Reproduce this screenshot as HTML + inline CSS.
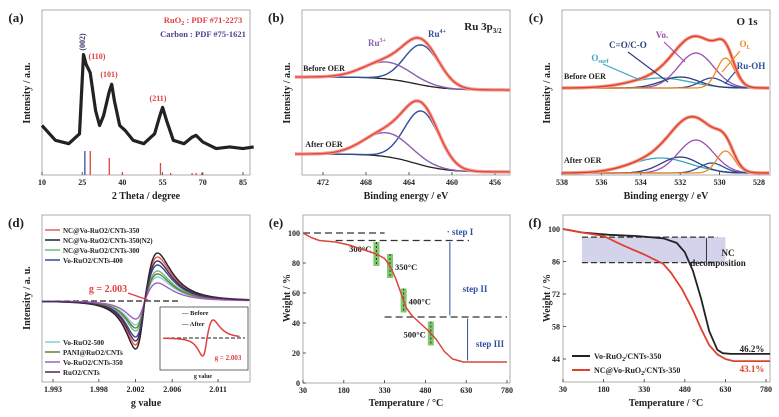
<!DOCTYPE html>
<html><head><meta charset="utf-8"><style>
body{margin:0;background:#fff;width:779px;height:417px;overflow:hidden}
svg{display:block;font-family:"Liberation Serif",serif}
</style></head><body>
<svg id="fig" width="779" height="417" viewBox="0 0 779 417" xmlns="http://www.w3.org/2000/svg"></svg>
<script>
// ---------- data ----------
const xrdTheta=[10,15,20,24,25.5,26.5,28,30,31.5,33,35,36,37,39,41,44,48,52,54,55,56.5,59,63,66,67.5,70,75,80,85,89];
const xrdInt=[30,21,19,25,73,67,62,39,30,36,50,55,45,30,27,21,19,25,36,41,33,21,19,23,24,20,16,17,16,17];
const ruo2Ref=[28,35.1,40,54.2,58,66,67.5,69.6];
const ruo2RefH=[24,17,3,12,2,2,2,2];
const carbonRef=[26];const carbonRefH=[24];
const xrdTicks=[10,25,40,55,70,85];
// (b) Ru 3p: [center, height, sigma]
const ruCenters=[462.8,466.0];
const ruBeforeH=[40,17];const ruAfterH=[54,24];
const ruSigma=[1.6,2.2];
const bTicks=[472,468,464,460,456];
// (c) O 1s components: Osurf, C=O/C-O, Vo, Ru-OH, OL
const oCenters=[533.0,532.0,531.2,530.4,529.7];
const oBeforeH=[10,11,35,10,30];const oAfterH=[15,16,33,10,22];
const oSigma=[1.5,0.95,0.9,0.6,0.45];
const oColors=['#3aa6c0','#2c3e7a','#9b4fb0','#2d4f9a','#f08a24'];
const cTicks=[538,536,534,532,530,528];
// (d) EPR amplitudes
const eprNames=['NC@Vo-RuO2/CNTs-350','NC@Vo-RuO2/CNTs-350(N2)','NC@Vo-RuO2/CNTs-300','Vo-RuO2/CNTs-400','Vo-RuO2-500','PANI@RuO2/CNTs','Vo-RuO2/CNTs-350','RuO2/CNTs'];
const eprAmp=[44,48,30,36,24,27,18,40];
const eprColors=['#e85a5a','#222','#6bbf7a','#34489a','#7fd0e0','#6f7a3a','#a160c0','#4a2a5a'];
const dTicks=[1.993,1.998,2.002,2.006,2.011];
// (e) TGA
const eTemp=[30,60,90,150,200,250,300,330,350,370,390,410,430,460,490,520,550,580,620,650,780];
const eWt=[100,97,95,94,92,89,86,83,78,70,60,50,45,40,35,29,21,16,14,14,14];
const eMarks=[300,350,400,500];
const eTicksX=[30,180,330,480,630,780];const eTicksY=[0,20,40,60,80,100];
// (f) TGA compare
const fTempB=[30,100,200,300,400,450,480,510,540,570,600,620,650,795];
const fWtB=[100,98.5,97.5,97,96,94,90,82,70,56,48,46.5,46.2,46.2];
const fTempR=[30,100,180,250,330,400,430,470,510,540,570,600,630,660,795];
const fWtR=[100,98.5,97,93,89,85,81,74,65,57,50,46,44,43.1,43.1];
const fTicksX=[30,180,330,480,630,780];const fTicksY=[44,58,72,86,100];

// ---------- helpers ----------
const svg=document.getElementById('fig');const NS='http://www.w3.org/2000/svg';
function mk(tag,attrs,name,parent){const el=document.createElementNS(NS,tag);for(const k in attrs)el.setAttribute(k,attrs[k]);


(parent||svg).appendChild(el);return el;}
function txt(x,y,s,name,o){o=o||{};const t=mk('text',Object.assign({x:x,y:y,'font-size':o.fs||9,'font-weight':o.fw||'bold',fill:o.fill||'#222','text-anchor':o.anchor||'middle'},o.extra||{}),name);t.innerHTML=s;return t;}
function line(x1,y1,x2,y2,name,c,w,dash){return mk('line',{x1:x1,y1:y1,x2:x2,y2:y2,stroke:c||'#333','stroke-width':w||1,'stroke-dasharray':dash||'none'},name);}
function poly(pts,name,c,w,extra){return mk('polyline',Object.assign({points:pts.map(p=>p[0].toFixed(1)+','+p[1].toFixed(1)).join(' '),fill:'none',stroke:c,'stroke-width':w||1.2,'stroke-linejoin':'round'},extra||{}),name);}
function frame(x0,y0,x1,y1,name){mk('rect',{x:x0,y:y0,width:x1-x0,height:y1-y0,fill:'none',stroke:'#999','stroke-width':0.8},name);}
function gauss(x,c,h,s){return h*Math.exp(-((x-c)*(x-c))/(2*s*s));}
function xticks(ticks,sx,yb,name){ticks.forEach(t=>{line(sx(t),yb,sx(t),yb-3,name+'-tick','#333',0.8);txt(sx(t),yb+10,String(t),name+'-label',{fs:8});});}
function ylabel(x,y,s,name){txt(x,y,s,name,{fs:10,extra:{transform:'rotate(-90 '+x+' '+y+')'}});}

// ---------- (a) XRD ----------
(function(){const x0=42,x1=250,y0=10,y1=175;const sx=t=>42+(t-10)*(201/75);const sy=v=>175-v*1.65;
frame(x0,y0,x1,y1,'panel-a-frame');txt(16,22,'(a)','panel-a-label',{fs:13});
xticks(xrdTicks,sx,y1,'xrd-x');txt(146,199,'2 Theta / degree','xrd-x-title',{fs:10});ylabel(30,93,'Intensity / a.u.','xrd-y-title');
poly(xrdTheta.map((t,i)=>[sx(t),sy(xrdInt[i])]),'xrd-pattern','#222',3.2);
ruo2Ref.forEach((t,i)=>line(sx(t),y1,sx(t),y1-ruo2RefH[i],'ruo2-reference-line','#e04040',1.3));
carbonRef.forEach((t,i)=>line(sx(t),y1,sx(t),y1-carbonRefH[i],'carbon-reference-line','#3050a0',1.3));
txt(203,23,'RuO<tspan font-size="6" dy="2">2</tspan><tspan dy="-2"> : PDF #71-2273</tspan>','legend-ruo2',{fs:8.5,fill:'#e04040'});
txt(203,37,'Carbon : PDF #75-1621','legend-carbon',{fs:8.5,fill:'#504090'});
txt(85,42,'(002)','peak-002',{fs:8,fill:'#3a3a6a',extra:{transform:'rotate(-90 85 42)'}});
txt(97,59,'(110)','peak-110',{fs:8,fill:'#e04040'});txt(109,77,'(101)','peak-101',{fs:8,fill:'#e04040'});txt(158,101,'(211)','peak-211',{fs:8,fill:'#e04040'});
})();

// ---------- (b) Ru 3p ----------
(function(){const x0=302,x1=510,y0=10,y1=175;const sx=e=>323+(472-e)*10.75;
frame(x0,y0,x1,y1,'panel-b-frame');txt(276,22,'(b)','panel-b-label',{fs:13});
xticks(bTicks,sx,y1,'xps-ru-x');txt(406,199,'Binding energy / eV','xps-ru-x-title',{fs:10});ylabel(290,93,'Intensity / a.u.','xps-ru-y-title');
txt(483,30,'Ru 3p<tspan font-size="7" dy="3">3/2</tspan>','ru-title',{fs:11});
function draw(hs,bL,bR,tag){const es=[];for(let e=474.6;e>=454.5;e-=0.2)es.push(e);
const bg=e=>bL+(bR-bL)/(1+Math.exp(-(463.5-e)/1.5));
poly(es.map(e=>[sx(e),bg(e)]),tag+'-background','#222',1.3);
const comp=['#2e4f9a','#8a5fb0'];
ruCenters.forEach((c,i)=>poly(es.map(e=>[sx(e),bg(e)-gauss(e,c,hs[i],ruSigma[i])]),tag+'-component-'+i,comp[i],1.4));
poly(es.map(e=>[sx(e),bg(e)-ruCenters.reduce((s,c,i)=>s+gauss(e,c,hs[i],ruSigma[i]),0)]),tag+'-envelope','#f0a0a0',3.5);
poly(es.map(e=>[sx(e),bg(e)-ruCenters.reduce((s,c,i)=>s+gauss(e,c,hs[i],ruSigma[i]),0)]),tag+'-fit','#e8442a',1.3);}
draw(ruBeforeH,77,90,'ru-before');draw(ruAfterH,154,172,'ru-after');
txt(324,71,'Before OER','before-oer-label',{fs:8});txt(324,147,'After OER','after-oer-label',{fs:8});
txt(377,46,'Ru<tspan font-size="6" dy="-4">3+</tspan>','ru3-label',{fs:9,fill:'#8a5fb0'});
txt(437,37,'Ru<tspan font-size="6" dy="-4">4+</tspan>','ru4-label',{fs:9,fill:'#2e4f9a'});
})();

// ---------- (c) O 1s ----------
(function(){const x0=562,x1=770,y0=10,y1=175;const sx=e=>562+(538-e)*19.7;
frame(x0,y0,x1,y1,'panel-c-frame');txt(536,22,'(c)','panel-c-label',{fs:13});
xticks(cTicks,sx,y1,'xps-o-x');txt(666,199,'Binding energy / eV','xps-o-x-title',{fs:10});ylabel(550,93,'Intensity / a.u.','xps-o-y-title');
txt(747,25,'O 1s','o1s-title',{fs:11});
function draw(hs,b,tag){const es=[];for(let e=538;e>=527.4;e-=0.1)es.push(e);
oCenters.forEach((c,i)=>poly(es.map(e=>[sx(e),b-gauss(e,c,hs[i],oSigma[i])]),tag+'-component-'+i,oColors[i],1.3));
const env=es.map(e=>[sx(e),b-oCenters.reduce((s,c,i)=>s+gauss(e,c,hs[i],oSigma[i]),0)]);
poly(env,tag+'-envelope','#f3a090',3.5);poly(env,tag+'-fit','#e0402a',1.4);}
draw(oBeforeH,88,'o-before');draw(oAfterH,173,'o-after');
txt(564,79,'Before OER','o-before-label',{fs:8,anchor:'start'});txt(564,163,'After OER','o-after-label',{fs:8,anchor:'start'});
txt(628,48,'C=O/C-O','co-label',{fs:9,fill:'#2c3e7a'});txt(662,38,'Vo.','vo-label',{fs:9,fill:'#9b4fb0'});
txt(600,61,'O<tspan font-size="6" dy="2">surf</tspan>','osurf-label',{fs:9,fill:'#3aa6c0'});
txt(745,47,'O<tspan font-size="6" dy="2">L</tspan>','ol-label',{fs:9,fill:'#f08a24'});txt(751,69,'Ru-OH','ruoh-label',{fs:9,fill:'#2d4f9a'});
line(628,52,668,82,'co-arrow','#2c3e7a',1.2);line(664,42,685,62,'vo-arrow','#9b4fb0',1.2);line(603,64,640,80,'osurf-arrow','#3aa6c0',1.2);
line(740,51,722,72,'ol-arrow','#f08a24',1.2);line(735,72,725,84,'ruoh-arrow','#2d4f9a',1.2);
})();

// ---------- (d) EPR ----------
(function(){const x0=42,x1=250,y0=215,y1=382;const sx=g=>53+(g-1.993)*9170;const base=301;
frame(x0,y0,x1,y1,'panel-d-frame');txt(16,227,'(d)','panel-d-label',{fs:13});
xticks(dTicks,sx,y1,'epr-x');txt(146,406,'g value','epr-x-title',{fs:10});ylabel(30,298,'Intensity / a. u.','epr-y-title');
line(55,base,180,base,'epr-baseline','#222',1.3,'6,3');
const shape=g=>{const d=(g-2.003)/0.001;const k=d>0?1.4:1.0;const dd=d/k;return 1.778*dd/Math.pow(1+dd*dd/3,2);};
eprAmp.forEach((a,i)=>{const pts=[];for(let g=1.9918;g<=2.0145;g+=0.0001)pts.push([sx(g),base-a*shape(g)]);poly(pts,'epr-series-'+i,eprColors[i],1.4);});
const leg=[[0,230],[1,240],[2,250],[3,260],[4,342],[5,352],[6,362],[7,372]];
leg.forEach(([i,y])=>{line(45,y,60,y,'legend-swatch-'+i,eprColors[i],1.5);txt(63,y+3,eprNames[i],'legend-entry-'+i,{fs:7,anchor:'start'});});
txt(108,292,'g = 2.003','g-value-label',{fs:10,fill:'#e04040'});line(128,293,148,300,'g-arrow','#e04040',1.3);
mk('rect',{x:160,y:307,width:88,height:63,fill:'#fff',stroke:'#444','stroke-width':0.8},'inset-frame');
line(165,338,245,338,'inset-baseline','#222',1,'4,2');
const isx=g=>163+(g-1.993)*4400;const ipts=[];for(let g=1.993;g<=2.0105;g+=0.0001)ipts.push([isx(g),338-18*shape(g)]);poly(ipts,'inset-after-curve','#e04040',1.5);
txt(182,315,'— Before','inset-legend-before',{fs:6.5,anchor:'start'});txt(182,326,'— After','inset-legend-after',{fs:6.5,anchor:'start'});
txt(228,360,'g = 2.003','inset-g-label',{fs:7,fill:'#e04040'});txt(203,378,'g value','inset-x-title',{fs:6});
})();

// ---------- (e) TGA ----------
(function(){const x0=303,x1=510,y0=215,y1=383;const sx=t=>303+(t-30)*0.272;const sy=w=>383-w*1.5;
frame(x0,y0,x1,y1,'panel-e-frame');txt(276,227,'(e)','panel-e-label',{fs:13});
xticks(eTicksX,sx,y1,'tga-x');eTicksY.forEach(v=>{line(x0,sy(v),x0+3,sy(v),'tga-y-tick','#333',0.8);txt(x0-3,sy(v)+3,String(v),'tga-y-label',{fs:8,anchor:'end'});});
txt(406,406,'Temperature / °C','tga-x-title',{fs:10});ylabel(290,298,'Weight / %','tga-y-title');
line(sx(30),sy(100),sx(330),sy(100),'step1-top-dash','#333',1.3,'7,4');line(sx(150),sy(95),sx(640),sy(95),'step2-top-dash','#333',1.3,'7,4');line(sx(330),sy(44),sx(780),sy(44),'step3-top-dash','#333',1.3,'7,4');
eMarks.forEach(t=>{const i=eTemp.findIndex(v=>v>=t);const w=eWt[i-1]+(eWt[i]-eWt[i-1])*(t-eTemp[i-1])/(eTemp[i]-eTemp[i-1]);
mk('rect',{x:sx(t)-3,y:sy(w)-12,width:6,height:24,fill:'#7cc86a'},'temp-marker-'+t);line(sx(t),sy(w)-12,sx(t),sy(w)+12,'temp-marker-dash','#333',1,'2,2');
txt(sx(t)+(t===350||t===400?5:-5),sy(w)+(t===300?-2:4),t+'°C','temp-label-'+t,{fs:8.5,anchor:(t===350||t===400)?'start':'end'});});
poly(eTemp.map((t,i)=>[sx(t),sy(eWt[i])]),'tga-curve','#d9463a',1.5);
line(sx(570),sy(94),sx(570),sy(45),'step2-arrow','#3050a0',1);line(sx(635),sy(43),sx(635),sy(15),'step3-arrow','#3050a0',1);
txt(460,235,'· step I','step1-label',{fs:9,fill:'#3050a0'});txt(475,292,'step II','step2-label',{fs:9,fill:'#3050a0'});txt(490,347,'step III','step3-label',{fs:9,fill:'#3050a0'});
})();

// ---------- (f) TGA compare ----------
(function(){const x0=563,x1=770,y0=215,y1=382;const sx=t=>563+(t-30)*0.2707;const sy=w=>229+(100-w)*2.321;
frame(x0,y0,x1,y1,'panel-f-frame');txt(535,227,'(f)','panel-f-label',{fs:13});
xticks(fTicksX,sx,y1,'tga2-x');fTicksY.forEach(v=>{line(x0,sy(v),x0+3,sy(v),'tga2-y-tick','#333',0.8);txt(x0-3,sy(v)+3,String(v),'tga2-y-label',{fs:8,anchor:'end'});});
txt(666,406,'Temperature / °C','tga2-x-title',{fs:10});ylabel(550,298,'Weight / %','tga2-y-title');
mk('rect',{x:sx(100),y:sy(96.5),width:sx(630)-sx(100),height:sy(85.5)-sy(96.5),fill:'#c8c8e6',opacity:0.8},'nc-decomposition-region');
line(sx(100),sy(96.5),sx(600),sy(96.5),'nc-top-dash','#333',1.2,'6,3');line(sx(100),sy(85.5),sx(600),sy(85.5),'nc-bottom-dash','#333',1.2,'6,3');
line(sx(560),sy(96),sx(560),sy(86),'nc-arrow','#333',1);
txt(728,256,'NC','nc-label',{fs:9});txt(718,266,'decomposition','nc-label-2',{fs:9});
poly(fTempB.map((t,i)=>[sx(t),sy(fWtB[i])]),'black-curve','#222',1.8);poly(fTempR.map((t,i)=>[sx(t),sy(fWtR[i])]),'red-curve','#e04030',1.8);
line(572,356,590,356,'legend-black-swatch','#222',2);txt(594,359,'Vo-RuO<tspan font-size="6" dy="2">2</tspan><tspan dy="-2">/CNTs-350</tspan>','legend-black',{fs:8,anchor:'start'});
line(572,370,590,370,'legend-red-swatch','#e04030',2);txt(594,373,'NC@Vo-RuO<tspan font-size="6" dy="2">2</tspan><tspan dy="-2">/CNTs-350</tspan>','legend-red',{fs:8,anchor:'start'});
txt(752,352,'46.2%','black-final-label',{fs:9});txt(752,372,'43.1%','red-final-label',{fs:9,fill:'#e04030'});
})();
</script>
</body></html>
